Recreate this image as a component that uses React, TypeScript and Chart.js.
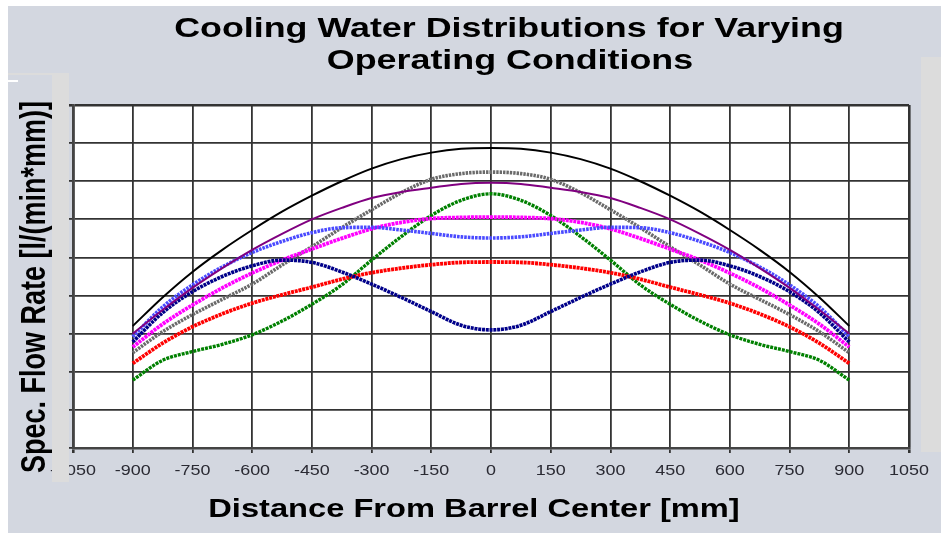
import React, { useEffect, useRef } from "react";
import { Chart, registerables } from "chart.js";

Chart.register(...registerables);

// Distance from barrel center [mm]
const distances = [-900, -825, -750, -675, -600, -525, -450, -375, -300, -225, -150, -75, 0, 75, 150, 225, 300, 375, 450, 525, 600, 675, 750, 825, 900];

// Specific flow rate (in grid units) for each operating condition
const blackSeries = [3.2, 3.95, 4.62, 5.2, 5.72, 6.2, 6.62, 7.0, 7.33, 7.58, 7.75, 7.85, 7.87, 7.85, 7.75, 7.58, 7.33, 7.0, 6.62, 6.2, 5.72, 5.2, 4.62, 3.95, 3.2];
const purpleSeries = [3.0, 3.62, 4.2, 4.72, 5.2, 5.62, 6.0, 6.3, 6.56, 6.72, 6.83, 6.93, 6.96, 6.93, 6.83, 6.72, 6.56, 6.3, 6.0, 5.62, 5.2, 4.72, 4.2, 3.62, 3.0];
const graySeries = [2.5, 3.05, 3.5, 3.9, 4.3, 4.8, 5.28, 5.78, 6.25, 6.7, 7.05, 7.2, 7.24, 7.2, 7.05, 6.7, 6.25, 5.78, 5.28, 4.8, 4.3, 3.9, 3.5, 3.05, 2.5];
const greenSeries = [1.78, 2.3, 2.53, 2.72, 2.97, 3.33, 3.77, 4.28, 4.93, 5.55, 6.1, 6.5, 6.67, 6.5, 6.1, 5.55, 4.93, 4.28, 3.77, 3.33, 2.97, 2.72, 2.53, 2.3, 1.78];
const magentaSeries = [2.65, 3.25, 3.75, 4.2, 4.59, 4.93, 5.22, 5.5, 5.75, 5.92, 6.02, 6.05, 6.06, 6.05, 6.02, 5.92, 5.75, 5.5, 5.22, 4.93, 4.59, 4.2, 3.75, 3.25, 2.65];
const blueSeries = [2.92, 3.7, 4.28, 4.75, 5.13, 5.42, 5.65, 5.78, 5.79, 5.72, 5.63, 5.54, 5.51, 5.54, 5.63, 5.72, 5.79, 5.78, 5.65, 5.42, 5.13, 4.75, 4.28, 3.7, 2.92];
const navySeries = [2.78, 3.55, 4.1, 4.5, 4.78, 4.93, 4.87, 4.62, 4.3, 3.95, 3.58, 3.22, 3.1, 3.22, 3.58, 3.95, 4.3, 4.62, 4.87, 4.93, 4.78, 4.5, 4.1, 3.55, 2.78];
const redSeries = [2.22, 2.75, 3.18, 3.52, 3.8, 4.02, 4.22, 4.43, 4.6, 4.72, 4.81, 4.87, 4.88, 4.87, 4.81, 4.72, 4.6, 4.43, 4.22, 4.02, 3.8, 3.52, 3.18, 2.75, 2.22];

const titleLines = ["Cooling Water Distributions for Varying", "Operating Conditions"];
const xTitle = "Distance From Barrel Center [mm]";
const yTitle = "Spec. Flow Rate [l/(min*mm)]";

const STRETCH = 1.28;
const FONT = "'Liberation Sans', Arial, sans-serif";

function drawStretched(ctx: CanvasRenderingContext2D, text: string, x: number, y: number, font: string, color: string) {
  ctx.save();
  ctx.translate(x, y);
  ctx.scale(STRETCH, 1);
  ctx.font = font;
  ctx.fillStyle = color;
  ctx.textAlign = "center";
  ctx.textBaseline = "alphabetic";
  ctx.fillText(text, 0, 0);
  ctx.restore();
}

export default function App() {
  const ref = useRef<HTMLCanvasElement>(null);

  useEffect(() => {
    const canvas = ref.current;
    if (!canvas) return;

    const mk = (label: string, data: number[], color: string, width: number, dash: number[]) => ({
      label,
      data: distances.map((x, i) => ({ x, y: data[i] })),
      borderColor: color,
      backgroundColor: color,
      borderWidth: width,
      borderDash: dash,
      pointRadius: 0,
      fill: false,
      cubicInterpolationMode: "monotone" as const,
    });

    const decor = {
      id: "decor",
      beforeDraw(chart: any) {
        const { ctx, chartArea } = chart;
        ctx.save();
        ctx.fillStyle = "#ffffff";
        ctx.fillRect(chartArea.left, chartArea.top, chartArea.right - chartArea.left, chartArea.bottom - chartArea.top);
        ctx.restore();
      },
      afterDraw(chart: any) {
        const { ctx } = chart;
        const xs = chart.scales.x;
        xs.ticks.forEach((t: any) => {
          const px = xs.getPixelForValue(t.value);
          drawStretched(ctx, String(t.value), px, 469, `14px ${FONT}`, "#2a2a33");
        });
        ctx.save();
        ctx.fillStyle = "#dcdcdc";
        ctx.fillRect(44, 68, 17, 408);
        ctx.fillRect(0, 67, 61, 2);
        ctx.fillRect(913, 51, 20, 395);
        ctx.fillStyle = "#ffffff";
        ctx.fillRect(0, 74, 10, 2);
        ctx.restore();
        drawStretched(ctx, titleLines[0], 501, 31, `bold 28px ${FONT}`, "#000");
        drawStretched(ctx, titleLines[1], 502, 63, `bold 28px ${FONT}`, "#000");
        drawStretched(ctx, xTitle, 466, 511, `bold 25.5px ${FONT}`, "#000");
        ctx.save();
        ctx.translate(37, 281);
        ctx.scale(STRETCH, 1);
        ctx.rotate(-Math.PI / 2);
        ctx.font = `bold 27px ${FONT}`;
        ctx.fillStyle = "#000";
        ctx.textAlign = "center";
        ctx.textBaseline = "alphabetic";
        ctx.fillText(yTitle, 0, 0);
        ctx.restore();
      },
    };

    const chart = new Chart(canvas, {
      type: "line",
      data: {
        datasets: [
          mk("Black", blackSeries, "#000000", 2, []),
          mk("Purple", purpleSeries, "#800080", 2, []),
          mk("Blue", blueSeries, "#4a4aff", 3.6, [2.6, 1]),
          mk("Navy", navySeries, "#00008a", 3.6, [3, 0.8]),
          mk("Magenta", magentaSeries, "#ff00ff", 3.8, [3, 0.8]),
          mk("Gray", graySeries, "#6a6a6a", 3.6, [2.4, 1]),
          mk("Red", redSeries, "#ff0000", 3.8, [3, 0.8]),
          mk("Green", greenSeries, "#008000", 3.4, [3, 1]),
        ],
      },
      options: {
        responsive: false,
        devicePixelRatio: 1,
        animation: false,
        events: [],
        layout: { padding: { left: 0, right: 32, top: 99, bottom: 0 } },
        plugins: { legend: { display: false }, tooltip: { enabled: false }, title: { display: false } },
        scales: {
          x: {
            type: "linear",
            min: -1050,
            max: 1050,
            ticks: { stepSize: 150, display: false },
            grid: {
              color: "#333333",
              lineWidth: (c: any) => (c.tick && Math.abs(c.tick.value) === 1050 ? 2.6 : 1.8),
              tickLength: 5,
              drawTicks: true,
            },
            border: { display: true, color: "#444444", width: 2.6 },
            afterFit: (s: any) => {
              s.height = 85;
            },
          },
          y: {
            type: "linear",
            min: 0,
            max: 9,
            ticks: { stepSize: 1, display: false },
            grid: {
              color: "#333333",
              lineWidth: (c: any) => (c.tick && c.tick.value === 9 ? 2.6 : 1.8),
              tickLength: 5,
              drawTicks: true,
            },
            border: { display: true, color: "#444444", width: 2.6 },
            afterFit: (s: any) => {
              s.width = 65;
            },
          },
        },
      },
      plugins: [decor],
    } as any);

    return () => chart.destroy();
  }, []);

  return (
    <div style={{ position: "fixed", left: 8, top: 6, width: 933, height: 527, background: "#d3d7e0" }}>
      <canvas ref={ref} width={933} height={527} style={{ display: "block" }} />
    </div>
  );
}
